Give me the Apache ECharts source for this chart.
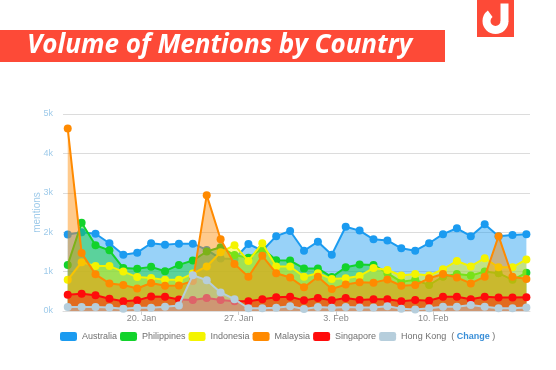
<!DOCTYPE html>
<html>
<head>
<meta charset="utf-8">
<script src="https://cdn.jsdelivr.net/npm/echarts@6/dist/echarts.min.js"></script>
<style>
html,body{margin:0;padding:0;background:#fff;}
#chart{width:556px;height:370px;}
</style>
</head>
<body>
<div id="chart"></div>
<script>
// ---- data ----
const days = ['15 Jan','16 Jan','17 Jan','18 Jan','19 Jan','20 Jan','21 Jan','22 Jan','23 Jan','24 Jan','25 Jan','26 Jan','27 Jan','28 Jan','29 Jan','30 Jan','31 Jan',
              '1 Feb','2 Feb','3 Feb','4 Feb','5 Feb','6 Feb','7 Feb','8 Feb','9 Feb','10 Feb','11 Feb','12 Feb','13 Feb','14 Feb','15 Feb','16 Feb','17 Feb'];
const tickDays = ['20 Jan','27 Jan','3 Feb','10 Feb'];
const tickLabels = ['20. Jan','27. Jan','3. Feb','10. Feb'];
const yTicks = [0,1000,2000,3000,4000,5000];

const seriesNames = ['Australia','Philippines','Indonesia','Malaysia','Singapore','Hong Kong'];
const australia   = [1940,2000,1960,1720,1430,1480,1720,1680,1710,1710,1550,1330,1320,1700,1530,1900,2030,1530,1760,1430,2140,2040,1820,1790,1590,1530,1720,1950,2100,1900,2200,1900,1930,1950];
const philippines = [1170,2240,1670,1540,1090,1070,1120,1010,1170,1280,1510,1620,1420,1350,1590,1290,1280,1080,1080,860,1110,1180,1170,960,740,790,660,870,940,900,1000,960,790,970];
const indonesia   = [790,1240,1140,1140,1000,860,840,790,790,950,1130,1490,1670,1270,1720,1130,1130,870,960,810,830,890,1090,1040,900,940,900,1060,1270,1130,1340,1110,1110,1310];
const malaysia    = [4630,1470,930,700,660,570,710,640,650,760,2940,1820,1190,870,1400,960,850,600,870,560,670,730,720,800,640,660,830,940,850,700,870,1900,870,810];
const singapore   = [410,440,400,310,250,270,370,360,290,280,330,280,250,250,300,350,360,270,330,270,330,280,300,300,250,280,260,360,360,300,360,340,340,350];
const hongkong    = [100,100,100,90,60,80,80,110,140,910,780,470,300,70,70,80,120,50,100,80,100,90,90,120,60,40,70,110,110,150,110,70,70,90];

// ---- styles ----
const colors = ['#1b9bf0','#12d32c','#f4f400','#ff8a00','#ff0b0b','#b6cedc'];
const TICK_OFFSET = 0.3;   // ticks at midnight, points slightly earlier
const FONT = '"Liberation Sans Narrow", "Liberation Sans", Arial, sans-serif';
const LEG_FS = 9, ICON_W = 17, ICON_H = 9, ICON_TXT = 5, ITEM_GAP = 3;

const allValues = [australia, philippines, indonesia, malaysia, singapore, hongkong];
const tickPos = tickDays.map(d => days.indexOf(d) + TICK_OFFSET);

// measure legend width to centre legend + "( Change )"
const cv = document.createElement('canvas').getContext('2d');
cv.font = LEG_FS + 'px ' + FONT;
let legendW = 0;
seriesNames.forEach((n, k) => { legendW += ICON_W + ICON_TXT + cv.measureText(n).width + (k ? ITEM_GAP : 0); });
const changeW = cv.measureText('(  )').width + (function(){ cv.font = 'bold ' + LEG_FS + 'px ' + FONT; return cv.measureText('Change').width; })();
const legendLeft = Math.round((556 - (legendW + 5 + changeW)) / 2);
const changeX = legendLeft + legendW + 5;

const chart = echarts.init(document.getElementById('chart'), null, {renderer:'canvas'});

const series = seriesNames.map((name, k) => ({
  name: name,
  type: 'line',
  data: allValues[k].map((v, i) => [i, v]),
  symbol: 'circle',
  symbolSize: 8,
  showSymbol: true,
  lineStyle: {width: 2, color: colors[k]},
  itemStyle: {color: colors[k]},
  areaStyle: {color: colors[k], opacity: 0.45},
  emphasis: {disabled: true},
  z: 2 + k,
  animation: false
}));

chart.setOption({
  animation: false,
  color: colors,
  grid: {left: 63, right: 26, top: 114, bottom: 59, containLabel: false},
  legend: {
    data: seriesNames.map((n, k) => ({name: n, icon: 'roundRect', itemStyle: {color: colors[k], opacity: 1}})),
    left: legendLeft, top: 332, padding: 0,
    itemWidth: ICON_W, itemHeight: ICON_H, itemGap: ITEM_GAP,
    textStyle: {color: '#707070', fontSize: LEG_FS, fontFamily: FONT},
    selectedMode: false
  },
  xAxis: {
    type: 'value',
    min: -0.34, max: 33.26,
    splitLine: {show: false},
    axisLine: {show: true, lineStyle: {color: '#dedede', width: 1}},
    axisTick: {show: true, customValues: tickPos, length: 4, lineStyle: {color: '#cfcfcf'}},
    axisLabel: {
      customValues: tickPos,
      color: '#8a8a8a', fontSize: 9, fontFamily: FONT, margin: 3,
      formatter: function (v) {
        const i = tickPos.findIndex(p => Math.abs(p - v) < 1e-6);
        return i >= 0 ? tickLabels[i] : '';
      }
    }
  },
  yAxis: {
    type: 'value',
    min: yTicks[0], max: yTicks[yTicks.length - 1], interval: 1000,
    name: 'mentions', nameLocation: 'middle', nameGap: 21, nameRotate: 90, nameMoveOverlap: false,
    nameTextStyle: {color: '#9fcbea', fontSize: 10, fontFamily: FONT},
    axisLine: {show: false}, axisTick: {show: false},
    splitLine: {lineStyle: {color: '#dcdcdc', width: 1}},
    axisLabel: {color: '#9fcbea', fontSize: 9, fontFamily: FONT, margin: 10,
      formatter: v => (v / 1000) + 'k'}
  },
  series: series,
  graphic: [
    {type: 'rect', shape: {x: 0, y: 30, width: 445, height: 32}, style: {fill: '#fd4a37'}, z: 10},
    {type: 'text', x: 27, y: 46, z: 11,
     style: {text: 'Volume of Mentions by Country', fill: '#ffffff', font: 'italic 700 26px "Open Sans", sans-serif',
             textVerticalAlign: 'middle', textAlign: 'left'}},
    {type: 'rect', shape: {x: 477, y: 0, width: 37, height: 37}, style: {fill: '#fd4a37'}, z: 10},
    {type: 'arc', shape: {cx: 495.5, cy: 21, r: 9, startAngle: 0, endAngle: Math.PI * 1.3, clockwise: true},
     style: {stroke: '#ffffff', lineWidth: 8, fill: null}, z: 11},
    {type: 'rect', shape: {x: 500.5, y: 3.5, width: 8, height: 18}, style: {fill: '#ffffff'}, z: 11},
    {type: 'text', x: changeX, y: 337, z: 11,
     style: {text: '( {b|Change} )', fill: '#707070', font: LEG_FS + 'px ' + FONT, textVerticalAlign: 'middle',
             rich: {b: {fill: '#3a8fd8', fontWeight: 'bold', fontSize: LEG_FS, fontFamily: FONT}}}}
  ]
});
</script>
</body>
</html>
